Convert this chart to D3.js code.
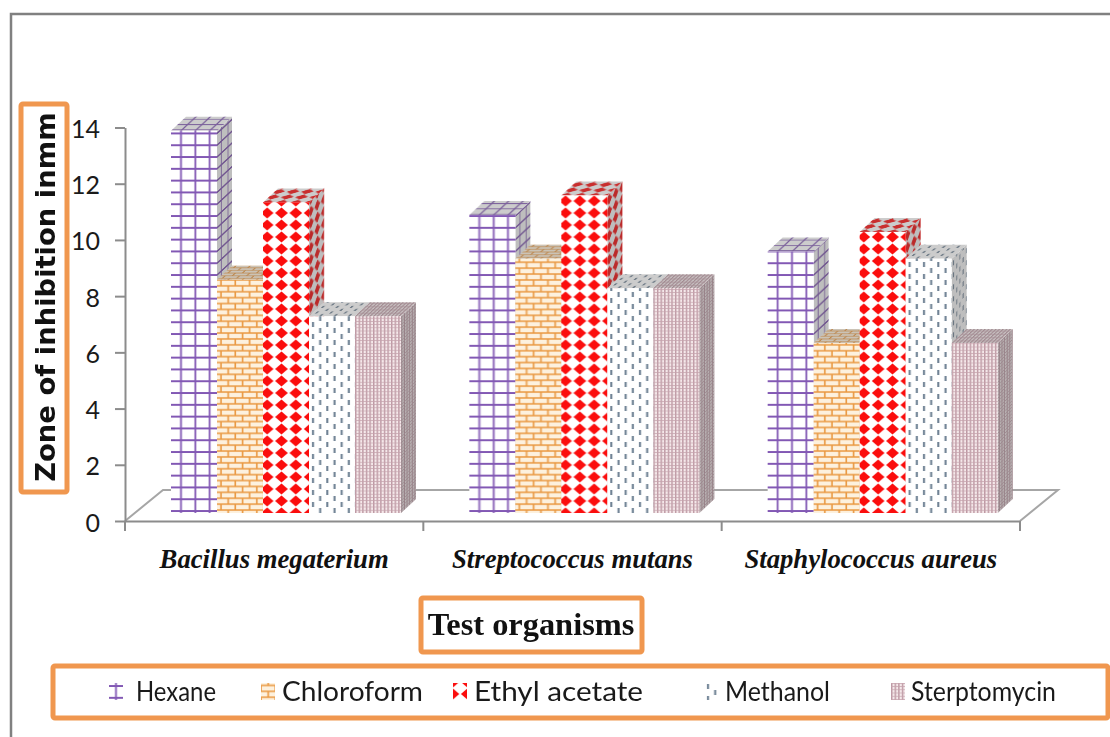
<!DOCTYPE html>
<html>
<head>
<meta charset="utf-8">
<script src="https://cdn.jsdelivr.net/npm/d3@7"></script>
<style>
  html, body { margin: 0; padding: 0; background: #fff; }
  svg { display: block; }
  .axis path, .axis line { stroke: #8c8c8c; stroke-width: 2; }
</style>
</head>
<body>
<svg id="drawing_region"></svg>
<script>
// values
const categories = ['Bacillus megaterium', 'Streptococcus mutans', 'Staphylococcus aureus'];
const seriesNames = ['Hexane', 'Chloroform', 'Ethyl acetate', 'Methanol', 'Sterptomycin'];
const hexane = [13.6, 10.6, 9.3];
const chloroform = [8.3, 9.05, 6.05];
const ethylAcetate = [11.05, 11.3, 10];
const methanol = [7, 8, 9.05];
const sterptomycin = [7, 8, 6.05];
const seriesValues = [hexane, chloroform, ethylAcetate, methanol, sterptomycin];
const yTicks = [0, 2, 4, 6, 8, 10, 12, 14];

// legend layout
const legendX = [109, 261, 453, 705, 891];
const legendTextX = [27, 21, 21, 20, 20];
const legendTextWidth = [80, 141, 169, 105, 145];
const swatchShift = [[3, 6.8], [4, 0.5], [4.2, 1], [1, 0], [0, 0]];
const orange = '#f0974f';

const svg = d3.select('#drawing_region').attr('width', 1110).attr('height', 737);
svg.append('rect').attr('width', 1110).attr('height', 737).attr('fill', '#fff');

const yscale = d3.scaleLinear().domain([0, 14]).range([521, 127.5]);
const xscale = d3.scaleBand().domain(categories).range([125, 1020]);
const barscale = d3.scaleBand().domain(seriesNames).range([46, 276]);

// bars stand a little behind the axis plane
const lift = 8;
const depthX = 15;
const depthY = 14;
const squeeze = 0.45; // pattern gets compressed on the receding faces
const skewSide = -Math.atan(depthY / depthX) * 180 / Math.PI;
const skewTop = -Math.atan(depthX / depthY) * 180 / Math.PI;

// Patterns
const defs = svg.append('defs');
defs.append('filter').attr('id', 'soft')
    .attr('x', '-5%').attr('y', '-5%').attr('width', '110%').attr('height', '110%')
    .append('feGaussianBlur').attr('stdDeviation', 0.5);

function makePattern(id, w, h, bg) {
    const p = defs.append('pattern').attr('id', id)
        .attr('patternUnits', 'userSpaceOnUse')
        .attr('width', w).attr('height', h);
    p.append('rect').attr('width', w).attr('height', h).attr('fill', bg);
    return p;
}

const grid = makePattern('p0', 14.33, 11.8, '#fff');
grid.append('path').attr('d', 'M10,0V11.8M0,9.8H14.33')
    .attr('stroke', '#8258b4').attr('stroke-width', 1.8).attr('fill', 'none');

const brick = makePattern('p1', 14.33, 11.8, '#fdf1de');
brick.append('path').attr('d', 'M0,2.9H14.33M0,8.8H14.33M4,2.9V8.8M11.2,0V2.9M11.2,8.8V11.8')
    .attr('stroke', '#e9973f').attr('stroke-width', 1.6).attr('fill', 'none');

const diamond = makePattern('p2', 14.33, 12, '#fff')
    .attr('patternTransform', 'translate(-3,-6)');
diamond.append('path')
    .attr('d', 'M0.8,6L7.16,0.4L13.5,6L7.16,11.6Z')
    .attr('fill', '#fb0d0d');

const dash = makePattern('p3', 14.33, 12, '#fff');
dash.append('path').attr('d', 'M4,1V6M11.2,7V12')
    .attr('stroke', '#6f8294').attr('stroke-width', 2.1).attr('fill', 'none');

const dots = makePattern('p4', 3.6, 3.2, '#f5e8ea');
dots.append('rect').attr('width', 1.4).attr('height', 3.2).attr('fill', '#bd98a3');
dots.append('rect').attr('width', 3.6).attr('height', 0.7).attr('fill', '#c7a4ae');

// Floor, behind the bars
const floorBack = 34;
const floorRun = 38;
const y0 = yscale(0);
const xLeft = xscale.range()[0];
const xRight = xscale.range()[1];
svg.append('path')
    .attr('d', `M${xLeft},${y0}L${xLeft + floorRun},${y0 - floorBack + 3}H${xRight + floorRun}L${xRight},${y0}`)
    .attr('fill', 'none').attr('stroke', '#a6a6a6').attr('stroke-width', 2);

// Axes
svg.append('g').attr('class', 'axis')
    .attr('transform', `translate(${xLeft},0)`)
    .call(d3.axisLeft(yscale).tickValues(yTicks).tickSize(10).tickSizeOuter(0).tickFormat(d3.format('d')))
    .call(g => g.selectAll('text')
        .attr('x', -25)
        .attr('y', 2)
        .attr('font-family', 'Lato')
        .attr('font-size', 25)
        .attr('fill', '#1a1a1a'));

const xaxis = svg.append('g').attr('class', 'axis')
    .attr('transform', `translate(0,${y0})`)
    .call(d3.axisBottom(xscale).tickSize(0).tickSizeOuter(0));
xaxis.selectAll('text')
    .attr('y', 38)
    .attr('dy', '0.32em')
    .attr('font-family', 'Liberation Serif')
    .attr('font-size', 26.7)
    .attr('font-weight', 'bold')
    .attr('font-style', 'italic')
    .attr('fill', '#111');
xaxis.selectAll('line.group-tick')
    .data(categories.map(c => xscale(c)).concat([xRight]))
    .enter().append('line')
    .attr('class', 'group-tick')
    .attr('x1', d => d).attr('x2', d => d)
    .attr('y1', 0).attr('y2', 10);

// Bars: painted left to right so that each front hides the previous side
const bars = svg.append('g').attr('filter', 'url(#soft)');
categories.forEach((cat, c) => {
    seriesNames.forEach((name, s) => {
        const w = barscale.bandwidth();
        const h = y0 - yscale(seriesValues[s][c]);
        const bar = bars.append('g')
            .attr('transform', `translate(${xscale(cat) + barscale(name)},${y0 - lift})`);
        const fill = `url(#p${s})`;

        const side = bar.append('g')
            .attr('transform', `translate(${w},0) skewY(${skewSide}) scale(${squeeze},1)`);
        side.append('rect').attr('y', -h).attr('width', depthX / squeeze).attr('height', h).attr('fill', fill);
        side.append('rect').attr('y', -h).attr('width', depthX / squeeze).attr('height', h)
            .attr('fill', '#5c5c5c').attr('fill-opacity', 0.4);

        const top = bar.append('g')
            .attr('transform', `translate(0,${-h}) skewX(${skewTop}) scale(1,${squeeze})`);
        top.append('rect').attr('y', -depthY / squeeze).attr('width', w).attr('height', depthY / squeeze).attr('fill', fill);
        top.append('rect').attr('y', -depthY / squeeze).attr('width', w).attr('height', depthY / squeeze)
            .attr('fill', '#6e6e6e').attr('fill-opacity', 0.35);

        bar.append('rect').attr('y', -h).attr('width', w).attr('height', h).attr('fill', fill);
    });
});

// Orange boxes
function box(x, y, w, h) {
    svg.append('rect').attr('x', x).attr('y', y).attr('width', w).attr('height', h)
        .attr('rx', 2).attr('fill', 'none').attr('stroke', orange).attr('stroke-width', 5);
}
box(21, 104, 46, 388);
box(421, 598, 221, 54);
box(53, 666, 1055, 52);

// Outer frame
svg.append('path').attr('d', 'M1110,14H11V737')
    .attr('fill', 'none').attr('stroke', '#808080').attr('stroke-width', 2.5);

// Titles
svg.append('text')
    .attr('transform', 'translate(55,297) rotate(-90)')
    .attr('text-anchor', 'middle')
    .attr('font-family', 'DejaVu Sans')
    .attr('font-weight', 'bold')
    .attr('font-size', 27.4)
    .attr('fill', '#111')
    .text('Zone of inhibition inmm');

svg.append('text')
    .attr('x', 531).attr('y', 635)
    .attr('text-anchor', 'middle')
    .attr('font-family', 'Liberation Serif')
    .attr('font-weight', 'bold')
    .attr('font-size', 32.4)
    .attr('fill', '#111')
    .text('Test organisms');

// Legend
const legend = svg.append('g').selectAll('g').data(seriesNames).enter().append('g')
    .attr('transform', (d, i) => `translate(${legendX[i]},683)`);
legend.append('rect')
    .attr('transform', (d, i) => `translate(${-swatchShift[i][0]},${-swatchShift[i][1]})`)
    .attr('x', (d, i) => swatchShift[i][0])
    .attr('y', (d, i) => swatchShift[i][1])
    .attr('width', 14).attr('height', 17)
    .attr('fill', (d, i) => `url(#p${i})`);
legend.append('text')
    .attr('x', (d, i) => legendTextX[i])
    .attr('y', 18)
    .attr('font-family', 'Lato')
    .attr('font-size', 26)
    .attr('fill', '#1a1a1a')
    .attr('textLength', (d, i) => legendTextWidth[i])
    .attr('lengthAdjust', 'spacingAndGlyphs')
    .text(d => d);
</script>
</body>
</html>
